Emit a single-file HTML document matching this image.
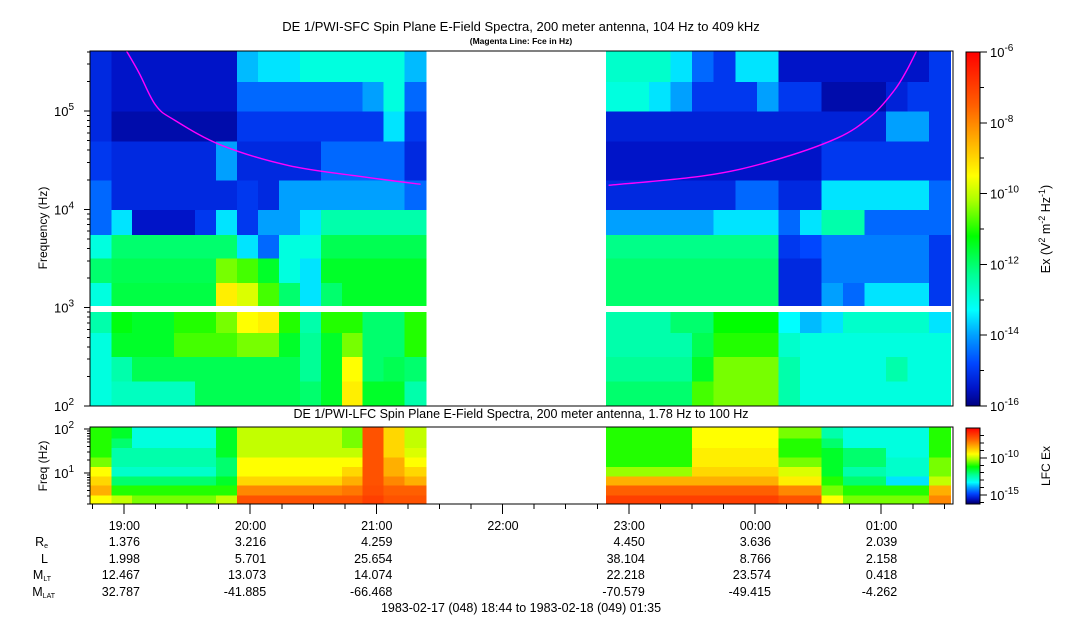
<!DOCTYPE html>
<html><head><meta charset="utf-8"><style>
html,body{margin:0;padding:0;background:#fff;}
svg{display:block;font-family:"Liberation Sans",sans-serif;}
</style></head><body>
<svg id="chart" width="1083" height="620" viewBox="0 0 1083 620" xmlns="http://www.w3.org/2000/svg" shape-rendering="crispEdges">
<text x="521" y="31" font-size="13" text-anchor="middle">DE 1/PWI-SFC  Spin Plane E-Field Spectra, 200 meter antenna, 104 Hz to 409 kHz</text>
<text x="521" y="44" font-size="8.5" font-weight="bold" text-anchor="middle">(Magenta Line: Fce in Hz)</text>
<text transform="translate(47,228) rotate(-90)" font-size="12" text-anchor="middle">Frequency (Hz)</text>
<text x="521" y="418" font-size="12.5" text-anchor="middle">DE 1/PWI-LFC  Spin Plane E-Field Spectra, 200 meter antenna, 1.78 Hz to 100 Hz</text>
<text transform="translate(47,466) rotate(-90)" font-size="12" text-anchor="middle">Freq (Hz)</text>
<text transform="translate(1050,229) rotate(-90)" font-size="12.5" text-anchor="middle">Ex (V<tspan dy="-5" font-size="9">2</tspan><tspan dy="5"> m</tspan><tspan dy="-5" font-size="9">-2</tspan><tspan dy="5"> Hz</tspan><tspan dy="-5" font-size="9">-1</tspan><tspan dy="5">)</tspan></text>
<text transform="translate(1050,466) rotate(-90)" font-size="12" text-anchor="middle">LFC Ex</text>
<g font-size="12.5" text-anchor="end">
<text x="48" y="546">R<tspan font-size="7" dy="2">e</tspan></text>
<text x="48" y="563">L</text>
<text x="51" y="579">M<tspan font-size="7" dy="2">LT</tspan></text>
<text x="55" y="596">M<tspan font-size="7" dy="2">LAT</tspan></text>
</g>
<text x="521" y="612" font-size="12.5" text-anchor="middle">1983-02-17 (048) 18:44 to 1983-02-18 (049) 01:35</text>
<g id="layer"></g>
</svg>
<script>
// ---- data ----
const sfcFreqEdges = [100,180,320,560,1000,1800,3200,5600,10000,20000,50000,100000,200000,409000];
const lfcFreqEdges = [1.97,3.2,5.3,8.6,14,23,38,63,111];
const leftSpan = [18.733, 21.39];
const rightSpan = [22.82, 25.55];
const nCols = 16;
const sfcLeft = [
[-13,-12.7,-12.7,-12.7,-12.7,-11.8,-11.8,-11.8,-11.8,-11.8,-12,-11.5,-9.3,-11.5,-11.5,-12.5],
[-13,-12.5,-11.8,-11.8,-11.8,-11.8,-11.8,-11.8,-11.8,-11.8,-12.3,-11.5,-9.5,-12,-11.8,-12],
[-13,-11.5,-11.5,-11.5,-10.8,-10.8,-10.8,-10.5,-10.5,-11.5,-12.3,-11.5,-10.5,-12,-12,-11],
[-12.5,-11.3,-11.5,-11.5,-11,-11,-10.5,-9.5,-9.3,-11,-12.5,-11,-11,-12,-12,-11],
[-13,-11.7,-11.7,-11.7,-11.7,-11.7,-9.3,-9.8,-10.8,-12,-13.5,-12,-11.5,-11.5,-11.5,-11.5],
[-12,-11.8,-11.8,-11.8,-11.8,-11.8,-10.5,-10.8,-11.5,-13,-13.5,-11.5,-11.5,-11.5,-11.5,-11.5],
[-13,-12,-12,-12,-12,-12,-12,-13.5,-14.5,-13,-13,-11.8,-11.8,-11.8,-11.8,-11.8],
[-14.5,-13.5,-15.5,-15.5,-15.5,-15,-13.5,-15,-14,-14,-13.5,-12.5,-12.5,-12.5,-12.5,-12.5],
[-14.5,-15.2,-15.2,-15.2,-15.2,-15.2,-15.2,-15,-15.2,-14,-14,-14,-14,-14,-14,-14.5],
[-15,-15.2,-15.2,-15.2,-15.2,-15.2,-14,-15.2,-15.2,-15.2,-15.2,-14.5,-14.5,-14.5,-14.5,-15.2],
[-15.2,-15.7,-15.7,-15.7,-15.7,-15.7,-15.7,-15,-15,-15,-15,-15,-15,-15,-13.5,-15],
[-15.2,-15.5,-15.5,-15.5,-15.5,-15.5,-15.5,-14.5,-14.5,-14.5,-14.5,-14.5,-14.5,-14,-13,-14.5],
[-15.2,-15.5,-15.5,-15.5,-15.5,-15.5,-15.5,-13.8,-13.5,-13.5,-13,-13,-13,-13,-13,-13.8]
];
const sfcRight = [
[-12,-12,-12,-12,-10.8,-10.5,-10.5,-10.5,-12.5,-13,-13,-13,-13,-13,-13,-13],
[-12.3,-12.3,-12.3,-12.3,-11.5,-10.5,-10.5,-10.5,-12.5,-13,-13,-13,-13,-12.5,-13,-13],
[-12.5,-12.5,-12.5,-12.5,-11.8,-11,-11,-11,-12.8,-13,-13,-13,-13,-13,-13,-13],
[-12.5,-12.5,-12.5,-12,-12,-11.2,-11.2,-11.2,-13.3,-13.8,-13.5,-12.8,-12.8,-12.8,-12.8,-13.5],
[-12,-12,-12,-12,-12,-12,-12,-12,-15.2,-15.2,-14,-14.5,-13.5,-13.5,-13.5,-15],
[-12,-12,-12,-12,-12,-12,-12,-12,-15.2,-15.2,-14.3,-14.3,-14.3,-14.3,-14.3,-15],
[-12.2,-12.2,-12.2,-12.2,-12.2,-12.2,-12.2,-12.2,-15,-14.8,-14.3,-14.3,-14.3,-14.3,-14.3,-15],
[-14,-14,-14,-14,-14,-13.5,-13.5,-13.5,-14.5,-13.5,-12.5,-12.5,-14.5,-14.5,-14.5,-14.5],
[-15.2,-15.2,-15.2,-15.2,-15.2,-15.2,-14.5,-14.5,-15.2,-15.2,-13.5,-13.5,-13.5,-13.5,-13.5,-14.5],
[-15.5,-15.5,-15.5,-15.5,-15.5,-15.5,-15.5,-15.5,-15.5,-15.5,-15,-15,-15,-15,-15,-15],
[-15.3,-15.3,-15.3,-15.3,-15.3,-15.3,-15.3,-15.3,-15.3,-15.3,-15.3,-15.3,-15.3,-14,-14,-15],
[-13,-13,-13.5,-14,-15,-15,-15,-14,-15,-15,-15.7,-15.7,-15.7,-15.3,-15,-15],
[-12.8,-12.8,-12.8,-13.5,-14.5,-15,-13.5,-13.5,-15.5,-15.5,-15.5,-15.5,-15.5,-15.5,-15.5,-15]
];
const lfcLeft = [
[-9.5,-10,-10.5,-10.5,-10.5,-10.5,-10,-7.3,-7.3,-7.3,-7.3,-7.3,-7.3,-7,-7.3,-7.3],
[-8.5,-11,-11,-11,-11,-11,-11,-8,-8,-8,-8,-8,-7.8,-7.2,-7.5,-7.5],
[-9,-12,-12,-12,-12,-12,-11.5,-9,-9,-9,-9,-9,-8.5,-7.3,-8,-8.5],
[-9.5,-12.8,-12.8,-12.8,-12.8,-12.8,-12,-9.5,-9.5,-9.5,-9.5,-9.5,-9,-7.3,-8.5,-9],
[-10.5,-12.5,-12.5,-12.5,-12.5,-12.5,-12,-9.5,-9.5,-9.5,-9.5,-9.5,-9.5,-7.3,-8.5,-9.5],
[-11,-12.5,-12.5,-12.5,-12.5,-12.5,-11.5,-10,-10,-10,-10,-10,-10,-7.3,-9,-9.8],
[-11,-12,-13,-13,-13,-13,-11.5,-10,-10,-10,-10,-10,-10.5,-7.3,-9,-10],
[-11,-11.5,-13,-13,-13,-13,-11.5,-10,-10,-10,-10,-10,-10.5,-7.3,-9,-10]
];
const lfcRight = [
[-7,-7,-7,-7,-7,-7,-7,-7,-7.3,-7.3,-9.5,-10.5,-10.5,-10.5,-10.5,-8],
[-7.5,-7.5,-7.5,-7.5,-7.5,-7.5,-7.5,-7.5,-8,-8,-10.5,-11,-11,-11,-11,-8.5],
[-8.5,-8.5,-8.5,-8.5,-8.5,-8.5,-8.5,-8.5,-9.3,-9.3,-11,-12,-12,-13.5,-13.5,-10],
[-10.3,-10.3,-10.3,-10.3,-9,-9,-9,-9,-9.8,-9.8,-11.5,-12.5,-12.5,-12.8,-12.8,-10.5],
[-11,-11,-11,-11,-9.3,-9.3,-9.3,-9.3,-10.5,-10.5,-11.5,-12,-12,-12.8,-12.8,-10.5],
[-11,-11,-11,-11,-9.3,-9.3,-9.3,-9.3,-11,-11,-11.5,-12,-12,-13,-13,-11],
[-11,-11,-11,-11,-9.5,-9.5,-9.5,-9.5,-11,-11,-12,-13,-13,-13,-13,-11],
[-11,-11,-11,-11,-9.5,-9.5,-9.5,-9.5,-10.5,-10.5,-12.5,-13,-13,-13,-13,-11]
];
const fceLeftTimes = [19.02,19.12,19.25,19.40,19.77,20.30,20.83,21.35];
const fceLeftValues = [409000,244000,115000,81000,45000,28000,22000,18000];
const fceRightTimes = [22.84,23.60,24.13,24.65,24.92,25.10,25.20,25.28];
const fceRightValues = [17600,22000,31000,53000,89000,160000,256000,409000];
const hourTicks = [19,20,21,22,23,24,25];
const hourLabels = ["19:00","20:00","21:00","22:00","23:00","00:00","01:00"];
const ephemRe = ["1.376","3.216","4.259","","4.450","3.636","2.039"];
const ephemL = ["1.998","5.701","25.654","","38.104","8.766","2.158"];
const ephemMLT = ["12.467","13.073","14.074","","22.218","23.574","0.418"];
const ephemMLAT = ["32.787","-41.885","-66.468","","-70.579","-49.415","-4.262"];
const cbMainTicks = [-6,-8,-10,-12,-14,-16];
const cbLfcTicks = [-10,-15];

// ---- scales ----
const PX0=90, PX1=953;
function xT(t){ return 124 + (t-19)*126.2; }
function ySfc(f){ return 406 - (Math.log10(f)-2)*98.3; }
function yLfc(f){ return 473 - (Math.log10(f)-1)*44; }
const stops=[[-16,[0,0,128]],[-15.5,[0,20,200]],[-14.8,[0,70,255]],[-14,[0,160,255]],[-13.3,[0,255,255]],[-12.3,[0,255,150]],[-11.2,[0,255,0]],[-10.2,[170,255,0]],[-9.5,[255,255,0]],[-8.5,[255,175,0]],[-7.5,[255,95,0]],[-6,[255,0,0]]];
function cmap(v){
  if(v<=stops[0][0]) return 'rgb('+stops[0][1]+')';
  for(let i=1;i<stops.length;i++){ if(v<=stops[i][0]){ const a=stops[i-1],b=stops[i],k=(v-a[0])/(b[0]-a[0]);
    return 'rgb('+a[1].map((c,j)=>Math.round(c+(b[1][j]-c)*k)).join(',')+')'; } }
  return 'rgb(255,0,0)';
}
const NS='http://www.w3.org/2000/svg';
const layer=document.getElementById('layer');
function mk(tag,attrs,parent){ const e=document.createElementNS(NS,tag); for(const k in attrs) e.setAttribute(k,attrs[k]); (parent||layer).appendChild(e); return e; }

function drawGrid(data, span, edges, yfn, name){
  const g=mk('g',{});
  
  
  const dt=(span[1]-span[0])/nCols;
  for(let r=0;r<data.length;r++){
    const y0=yfn(edges[r+1]), y1=yfn(edges[r]);
    for(let c=0;c<nCols;c++){
      const x0=xT(span[0]+c*dt), x1=xT(span[0]+(c+1)*dt);
      const cell=mk('rect',{x:x0.toFixed(1),y:y0.toFixed(1),width:(x1-x0+0.6).toFixed(1),height:(y1-y0+0.6).toFixed(1),fill:cmap(data[r][c])},g);
      
      
    }
  }
}
drawGrid(sfcLeft,leftSpan,sfcFreqEdges,ySfc,'sfc-left-spectrogram');
drawGrid(sfcRight,rightSpan,sfcFreqEdges,ySfc,'sfc-right-spectrogram');
drawGrid(lfcLeft,leftSpan,lfcFreqEdges,yLfc,'lfc-left-spectrogram');
drawGrid(lfcRight,rightSpan,lfcFreqEdges,yLfc,'lfc-right-spectrogram');
const gap=mk('rect',{x:PX0,y:306,width:PX1-PX0,height:6,fill:'#fff'});



// Fce lines (Catmull-Rom smoothed)
function fceLine(ts,vs,name){
  const P=ts.map((t,i)=>[xT(t),ySfc(vs[i])]);
  let d='M'+P[0][0].toFixed(1)+','+P[0][1].toFixed(1);
  for(let i=0;i<P.length-1;i++){
    const p0=P[Math.max(0,i-1)],p1=P[i],p2=P[i+1],p3=P[Math.min(P.length-1,i+2)];
    const c1=[p1[0]+(p2[0]-p0[0])/6,p1[1]+(p2[1]-p0[1])/6], c2=[p2[0]-(p3[0]-p1[0])/6,p2[1]-(p3[1]-p1[1])/6];
    d+=' C'+c1.map(v=>v.toFixed(1)).join(',')+' '+c2.map(v=>v.toFixed(1)).join(',')+' '+p2.map(v=>v.toFixed(1)).join(',');
  }
  const p=mk('path',{d:d,fill:'none',stroke:'#ff00ff','stroke-width':1.4,'shape-rendering':'auto'});
  
  
}
fceLine(fceLeftTimes,fceLeftValues,'fce-line-left');
fceLine(fceRightTimes,fceRightValues,'fce-line-right');

// frames
const f1=mk('rect',{x:PX0,y:51,width:PX1-PX0,height:355,fill:'none',stroke:'#000','stroke-width':1.2});


const f2=mk('rect',{x:PX0,y:427,width:PX1-PX0,height:77,fill:'none',stroke:'#000','stroke-width':1.2});



// y ticks
function yTicks(yfn,lo,hi,decs,ymin,ymax,name){
  const g=mk('g',{stroke:'#000'});
  
  
  for(let d=lo;d<=hi;d++){ for(let m=1;m<10;m++){ const f=m*Math.pow(10,d); const y=yfn(f); if(y<ymin-0.5||y>ymax+0.5) continue;
    mk('line',{x1:PX0-(m===1?6:3),x2:PX0,y1:y,y2:y},g); } }
  decs.forEach(d=>{ const y=yfn(Math.pow(10,d)); const t=mk('text',{x:74,y:y+5,'font-size':13,'text-anchor':'end',stroke:'none'},g);
    
    
    t.innerHTML='10<tspan dy="-6" font-size="10">'+d+'</tspan>'; });
}
yTicks(ySfc,2,5,[2,3,4,5],51,406,'sfc-y-axis');
yTicks(yLfc,0,2,[1,2],427,504,'lfc-y-axis');

// x ticks
const xg=mk('g',{stroke:'#000'});


for(let q=18.75;q<=25.51;q+=0.25){ const x=xT(q); const major=Math.abs(q-Math.round(q))<1e-6; mk('line',{x1:x,x2:x,y1:504,y2:major?514:509},xg); }
const rows=[[hourLabels,530,'time-label'],[ephemRe,546,'re-value'],[ephemL,563,'l-value'],[ephemMLT,579,'mlt-value'],[ephemMLAT,596,'mlat-value']];
rows.forEach(([arr,y,nm])=>{
  hourTicks.forEach((h,i)=>{ if(!arr[i]) return;
    const t=mk('text',{x:xT(h)+16,y:y,'font-size':12.5,'text-anchor':'end',stroke:'none'},xg);
    
    
    t.textContent=arr[i]; });
});

// colorbars
function colorbar(y0,y1,vmax,vmin,ticks,minor,name){
  const g=mk('g',{});
  
  
  const n=Math.round(y1-y0);
  for(let i=0;i<n;i++){ const v=vmax-(vmax-vmin)*(i+0.5)/n; mk('rect',{x:966,y:y0+i,width:14,height:1.05,fill:cmap(v)},g); }
  mk('rect',{x:966,y:y0,width:14,height:y1-y0,fill:'none',stroke:'#000','stroke-width':1},g);
  const yv=v=>y0+(vmax-v)/(vmax-vmin)*(y1-y0);
  minor.forEach(v=>mk('line',{x1:980,x2:984,y1:yv(v),y2:yv(v),stroke:'#000'},g));
  ticks.forEach(v=>{ mk('line',{x1:980,x2:987,y1:yv(v),y2:yv(v),stroke:'#000'},g);
    const t=mk('text',{x:990,y:yv(v)+5,'font-size':13},g);
    
    
    t.innerHTML='10<tspan dy="-6" font-size="10">'+v+'</tspan>'; });
}
colorbar(52,406,-6,-16,cbMainTicks,[-7,-9,-11,-13,-15],'sfc-colorbar');
colorbar(428,504,-6,-16.2,cbLfcTicks,[-7,-8,-9,-11,-12,-13,-14,-16],'lfc-colorbar');
</script>
</body></html>
